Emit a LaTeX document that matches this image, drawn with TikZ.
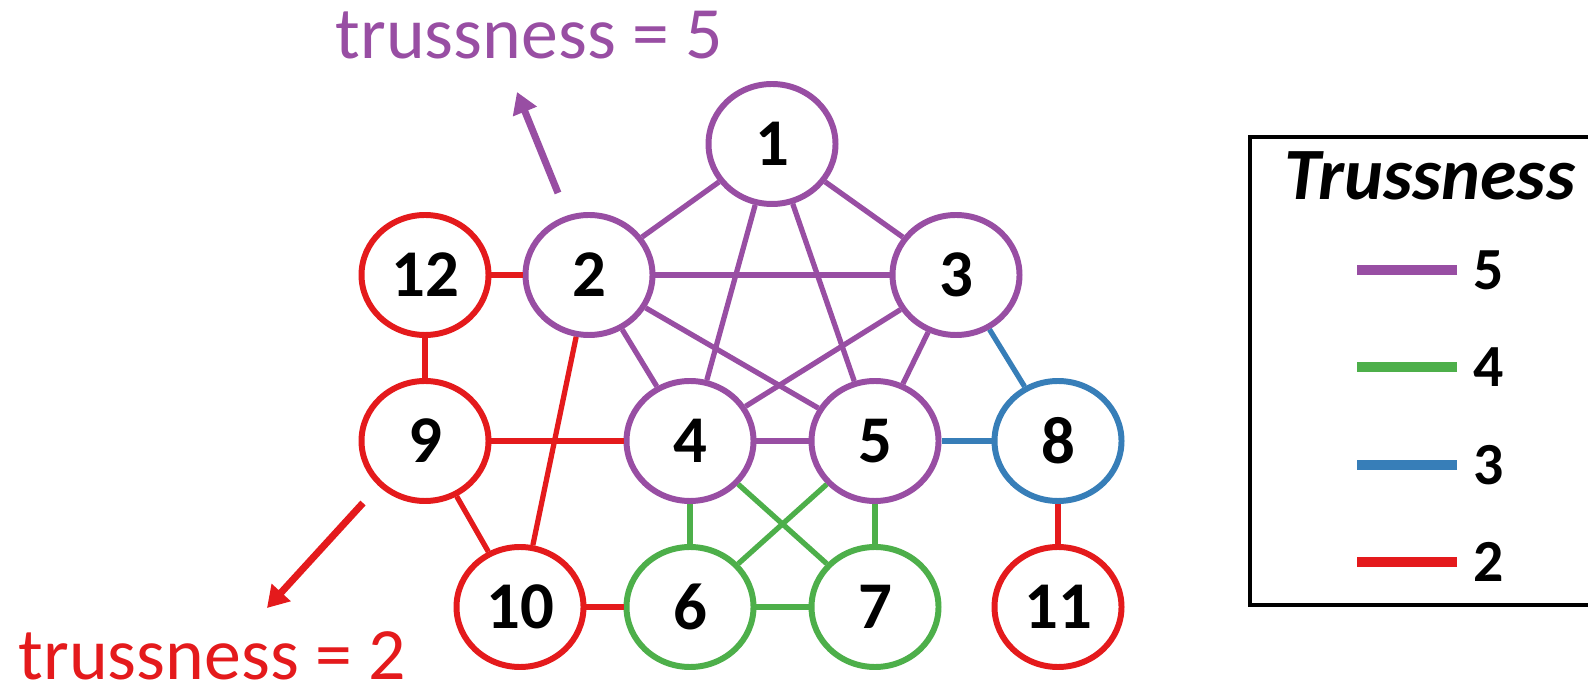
\documentclass[tikz,border=0pt]{standalone}
\usepackage{fontspec}
\setmainfont{Carlito}
\usetikzlibrary{shapes.geometric,arrows.meta}

\definecolor{tpurple}{HTML}{984EA3}
\definecolor{tgreen}{HTML}{4DAF4A}
\definecolor{tblue}{HTML}{377EB8}
\definecolor{tred}{HTML}{E41A1C}

\tikzset{
	vertex/.style={shape=ellipse, draw, fill=white, line width=1.7pt, minimum width=1.27cm, minimum height=1.2cm, inner sep=0pt, font=\bfseries\fontsize{19}{19}\selectfont},
	e5/.style={draw=tpurple, line width=1.5pt},
	e4/.style={draw=tgreen, line width=1.5pt},
	e3/.style={draw=tblue, line width=1.5pt},
	e2/.style={draw=tred, line width=1.5pt},
	pointer/.style={line width=2pt, -{Triangle[length=6pt,width=7pt]}},
	note/.style={anchor=base west, inner sep=0pt, font=\fontsize{21}{21}\selectfont},
	keyline/.style={line width=2.8pt},
	keylabel/.style={anchor=west, inner sep=0pt, font=\bfseries\fontsize{17}{17}\selectfont}
}

\begin{document}
\begin{tikzpicture}
	\useasboundingbox (0,0) rectangle (15.88,-6.85);

	\node[vertex, draw=tpurple] (1) at (7.72,-1.44) {1};
	\node[vertex, draw=tpurple] (2) at (5.89,-2.75) {2};
	\node[vertex, draw=tpurple] (3) at (9.56,-2.75) {3};
	\node[vertex, draw=tpurple] (4) at (6.90,-4.41) {4};
	\node[vertex, draw=tpurple] (5) at (8.75,-4.41) {5};
	\node[vertex, draw=tgreen] (6) at (6.90,-6.07) {6};
	\node[vertex, draw=tgreen] (7) at (8.75,-6.07) {7};
	\node[vertex, draw=tblue] (8) at (10.58,-4.41) {8};
	\node[vertex, draw=tred] (9) at (4.25,-4.41) {9};
	\node[vertex, draw=tred] (10) at (5.20,-6.07) {10};
	\node[vertex, draw=tred] (11) at (10.58,-6.07) {11};
	\node[vertex, draw=tred] (12) at (4.25,-2.75) {12};

	\path [e5] (1) edge (2);
	\path [e5] (1) edge (3);
	\path [e5] (1) edge (4);
	\path [e5] (1) edge (5);
	\path [e5] (2) edge (3);
	\path [e5] (2) edge (4);
	\path [e5] (2) edge (5);
	\path [e5] (3) edge (4);
	\path [e5] (3) edge (5);
	\path [e5] (4) edge (5);

	\path [e4] (4) edge (6);
	\path [e4] (4) edge (7);
	\path [e4] (5) edge (6);
	\path [e4] (5) edge (7);
	\path [e4] (6) edge (7);

	\path [e3] (3) edge (8);
	\path [e3] (5) edge (8);

	\path [e2] (12) edge (2);
	\path [e2] (12) edge (9);
	\path [e2] (9) edge (4);
	\path [e2] (9) edge (10);
	\path [e2] (2) edge (10);
	\path [e2] (10) edge (6);
	\path [e2] (8) edge (11);

	\node[note, text=tpurple] (hi) at (3.35,-0.59) {trussness = 5};
	\node[note, text=tred] (lo) at (0.18,-6.79) {trussness = 2};
	\coordinate (hifrom) at (5.58,-1.93);
	\coordinate (hito) at (5.17,-0.92);
	\coordinate (lofrom) at (3.63,-5.03);
	\coordinate (loto) at (2.67,-6.08);
	\draw [pointer, tpurple] (hifrom) -- (hito);
	\draw [pointer, tred] (lofrom) -- (loto);

	\draw [line width=1.2pt] (12.50,-1.37) rectangle (16.20,-6.05);
	\node[font=\bfseries\itshape\fontsize{21}{21}\selectfont, anchor=base] (title) at (14.30,-2.00) {Trussness};
	\node[keylabel] (k5) at (14.73,-2.70) {5};
	\node[keylabel] (k4) at (14.73,-3.67) {4};
	\node[keylabel] (k3) at (14.73,-4.65) {3};
	\node[keylabel] (k2) at (14.73,-5.62) {2};
	\draw [keyline, tpurple] ([xshift=-0.16cm]k5.west) -- ++(-1.0,0);
	\draw [keyline, tgreen] ([xshift=-0.16cm]k4.west) -- ++(-1.0,0);
	\draw [keyline, tblue] ([xshift=-0.16cm]k3.west) -- ++(-1.0,0);
	\draw [keyline, tred] ([xshift=-0.16cm]k2.west) -- ++(-1.0,0);
\end{tikzpicture}
\end{document}
